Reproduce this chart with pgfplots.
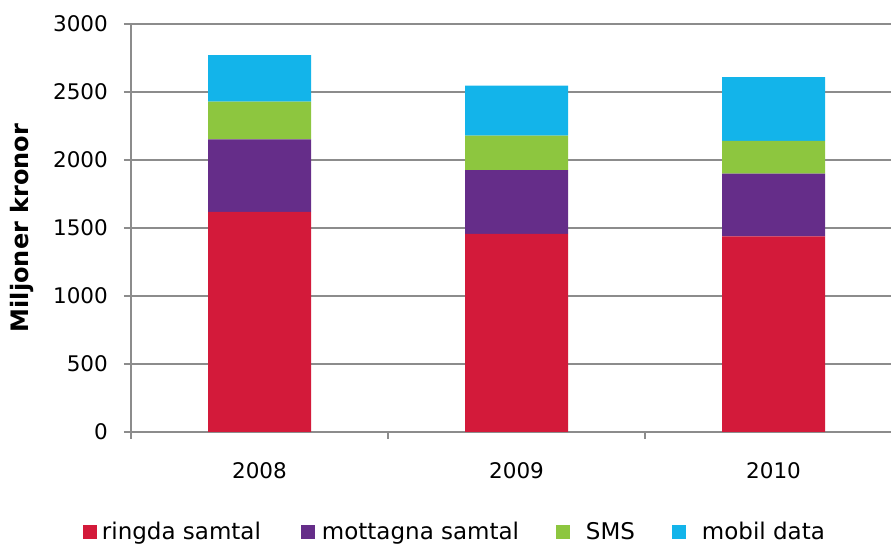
\documentclass[border=0pt]{standalone}
\usepackage{fontspec}
\setmainfont{DejaVu Sans}
\usepackage{pgfplots}
\pgfplotsset{compat=1.18}
\definecolor{cRed}{HTML}{D31A3A}
\definecolor{cPur}{HTML}{652D89}
\definecolor{cGrn}{HTML}{8DC63F}
\definecolor{cCya}{HTML}{13B4EA}
\definecolor{cGrid}{HTML}{8C8C8C}
\begin{document}
\begin{tikzpicture}
\begin{axis}[
  scale only axis, width=760pt, height=408pt,
  ybar stacked, bar width=103pt,
  xmin=-0.5, xmax=2.457, ymin=0, ymax=3000,
  axis lines*=left,
  axis line style={cGrid, line width=1.5pt},
  xtick={-0.5,0.5,1.5}, xticklabels={},
  extra x ticks={0,1,2}, extra x tick labels={2008,2009,2010},
  extra x tick style={major tick length=0pt},
  ytick={0,500,...,3000},
  ymajorgrids, grid style={cGrid, line width=1.5pt},
  tick style={cGrid, line width=1.5pt},
  tick align=outside, major tick length=7pt,
  /pgf/number format/assume math mode=true,
  /pgf/number format/set thousands separator={},
  xticklabel style={font=\fontsize{21.5}{26}\selectfont, inner sep=0pt, anchor=north, yshift=-30pt},
  yticklabel style={font=\fontsize{21.5}{26}\selectfont, inner sep=0pt, anchor=east, xshift=-16pt},
  ylabel={Miljoner kronor},
  ylabel style={font=\fontsize{24}{29}\selectfont\bfseries, at={(axis description cs:-0.144,0.5)}, anchor=center, inner sep=0pt},
  legend columns=4,
  legend image code/.code={\fill[#1] (0pt,-8pt) rectangle (14pt,6pt);},
  legend style={at={(axis description cs:-0.0632,-0.2433)}, anchor=west, draw=none, fill=none,
    inner sep=0pt, outer sep=0pt, column sep=0pt, font=\fontsize{23}{28}\selectfont,
    nodes={inner sep=0pt}},
]
\addplot[fill=cRed, draw=none] coordinates {(0,1618) (1,1456) (2,1439)};
\addlegendentry{\hspace{5pt}\makebox[199pt][l]{ringda samtal}}
\addplot[fill=cPur, draw=none] coordinates {(0,534) (1,470) (2,461)};
\addlegendentry{\hspace{7pt}\makebox[234pt][l]{mottagna samtal}}
\addplot[fill=cGrn, draw=none] coordinates {(0,277) (1,253) (2,240)};
\addlegendentry{\hspace{16pt}\makebox[86pt][l]{SMS}}
\addplot[fill=cCya, draw=none] coordinates {(0,343) (1,367) (2,470)};
\addlegendentry{\hspace{16pt}mobil data}
\end{axis}
\pgfresetboundingbox
\path[use as bounding box] (-131pt,-113pt) rectangle (760pt,432pt);
\end{tikzpicture}
\end{document}
